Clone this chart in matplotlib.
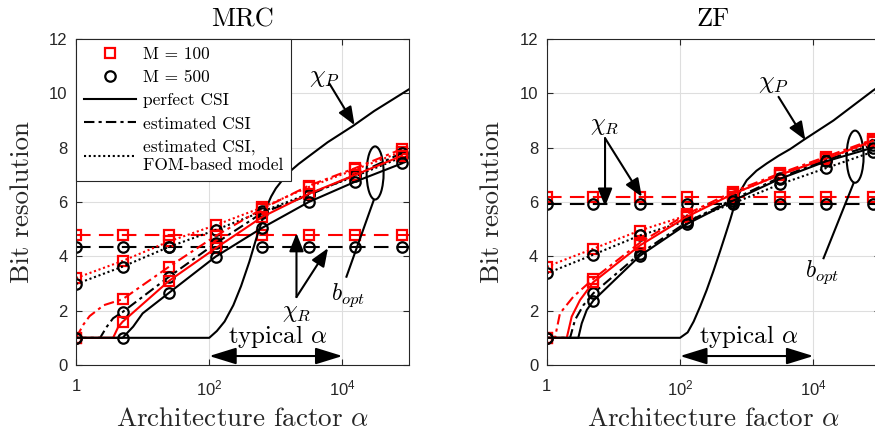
import numpy as np
import matplotlib
matplotlib.use('Agg')
import matplotlib.pyplot as plt
from matplotlib.lines import Line2D
from matplotlib.patches import Ellipse
from matplotlib.ticker import NullLocator

plt.rcParams['font.family'] = 'Liberation Sans'
plt.rcParams['mathtext.fontset'] = 'cm'
SERIF = 'cmr10'
INK = '#262626'

# alpha values where the markers sit
alpha_mk = [1, 5, 25, 125, 625, 3125, 15625, 78125]
alpha_full = [1, 5, 25, 125, 625, 3125, 15625, 78125, 100000]

# ---------------- MRC ----------------
mrc_chiR_100 = [4.78] * 9
mrc_chiR_500 = [4.35] * 9

mrc_chiP_a = [1, 100, 130, 170, 230, 300, 400, 500, 600, 720, 850, 1000, 1500, 2200, 3200, 6000, 14400, 30000, 100000]
mrc_chiP_b = [1, 1, 1.25, 1.6, 2.2, 2.9, 3.8, 4.6, 5.2, 5.8, 6.2, 6.5, 7.05, 7.4, 7.7, 8.2, 8.8, 9.35, 10.15]

mrc_perf100_a = [1, 3.6, 4.3, 5, 25, 125, 625, 3125, 15625, 78125]
mrc_perf100_b = [1, 1, 1.4, 1.59, 3.1, 4.3, 5.45, 6.3, 7.0, 7.7]
mrc_perf500_a = [1, 5, 7.2, 10, 25, 125, 625, 3125, 15625, 78125]
mrc_perf500_b = [1, 1, 1.41, 1.9, 2.66, 3.99, 5.05, 6.0, 6.75, 7.42]
mrc_est100_a = [1, 1.3, 1.6, 2.6, 5, 25, 125, 625, 3125, 15625, 78125]
mrc_est100_b = [1, 1.5, 1.8, 2.2, 2.42, 3.62, 4.75, 5.75, 6.6, 7.25, 7.95]
mrc_est500_a = [1, 2.3, 2.9, 3.6, 5, 25, 125, 625, 3125, 15625, 78125]
mrc_est500_b = [1, 1, 1.41, 1.72, 1.95, 3.25, 4.48, 5.6, 6.25, 7.0, 7.8]
mrc_fom100 = [3.2, 3.83, 4.55, 5.15, 5.8, 6.55, 7.2, 7.85]
mrc_fom500 = [2.98, 3.62, 4.35, 4.97, 5.65, 6.3, 6.95, 7.65]

# ---------------- ZF ----------------
zf_chiR_100 = [6.17] * 9
zf_chiR_500 = [5.91] * 9

zf_chiP_a = [1, 100, 130, 160, 200, 250, 316, 400, 480, 566, 650, 800, 1000, 1400, 2000, 3000, 4500, 7100, 20000, 78125, 100000]
zf_chiP_b = [1, 1, 1.2, 1.6, 2.15, 2.75, 3.45, 4.2, 4.8, 5.35, 5.85, 6.4, 6.8, 7.15, 7.42, 7.7, 7.95, 8.28, 9.0, 10.1, 10.28]

zf_perf100_a = [1, 2.0, 2.37, 3.16, 5, 25, 125, 625, 3125, 15625, 78125]
zf_perf100_b = [1, 1, 1.78, 2.39, 3.05, 4.4, 5.45, 6.3, 7.0, 7.6, 8.25]
zf_perf500_a = [1, 2.98, 3.35, 3.98, 5, 25, 125, 625, 3125, 15625, 78125]
zf_perf500_b = [1, 1, 1.53, 2.02, 2.37, 4.02, 5.18, 6.05, 6.85, 7.5, 8.0]
zf_est100_a = [1, 1.33, 1.58, 2.5, 5, 25, 125, 625, 3125, 15625, 78125]
zf_est100_b = [1, 1, 1.9, 2.51, 3.17, 4.5, 5.55, 6.38, 7.05, 7.67, 8.3]
zf_est500_a = [1, 2.24, 2.66, 3.55, 5, 25, 125, 625, 3125, 15625, 78125]
zf_est500_b = [1, 1, 1.66, 2.2, 2.64, 4.1, 5.25, 6.1, 6.9, 7.55, 8.1]
zf_fom100 = [3.62, 4.28, 4.95, 5.5, 6.3, 7.0, 7.6, 8.2]
zf_fom500 = [3.37, 4.06, 4.77, 5.3, 5.95, 6.65, 7.25, 7.85]

LW = 1.5
SOLID = '-'
DASHED = (0, (7, 4))
DASHDOT = (0, (5, 2, 1.5, 2))
DOTTED = (0, (1, 1.3))
SQ = dict(marker='s', ms=6.5, mew=1.6, mfc='none')
CI = dict(marker='o', ms=7.5, mew=1.6, mfc='none')


def curve(ax, a, b, color, ls, mk):
    a = np.asarray(a, float)
    b = np.asarray(b, float)
    ax.plot(a, b, color=color, ls=ls, lw=LW)
    m = np.isin(a, alpha_mk)
    ax.plot(a[m], b[m], ls='none', mec=color, **mk)


def style(ax, title):
    ax.set_xscale('log')
    ax.set_xlim(1, 1e5)
    ax.set_ylim(0, 12)
    ax.set_yticks(range(0, 13, 2))
    ax.set_xticks([1, 1e2, 1e4])
    ax.set_xticklabels(['1', r'$\mathregular{10^2}$', r'$\mathregular{10^4}$'])
    ax.xaxis.set_minor_locator(NullLocator())
    ax.grid(True, color='#dedede', lw=0.8)
    ax.set_axisbelow(True)
    ax.tick_params(direction='in', top=True, right=True, length=4, width=0.8,
                   labelsize=12, colors=INK, pad=6)
    ax.tick_params(axis='x', pad=10)
    for s in ax.spines.values():
        s.set_color(INK)
        s.set_linewidth(0.8)
    ax.set_title(title, family=SERIF, size=19, pad=9)
    ax.set_xlabel(r'Architecture factor $\alpha$', family=SERIF, size=19.5, color=INK, labelpad=6)
    ax.set_ylabel('Bit resolution', family=SERIF, size=19.5, color=INK, labelpad=11)


def arrow(ax, start, tip, ms=20):
    ax.annotate('', xy=tip, xytext=start,
                arrowprops=dict(arrowstyle='-|>,head_length=0.55,head_width=0.22',
                                color='k', lw=LW, shrinkA=0, shrinkB=0, mutation_scale=ms))


def typical(ax):
    ax.annotate('', xy=(1e2, 0.33), xytext=(1e4, 0.33),
                arrowprops=dict(arrowstyle='<|-|>,head_length=0.55,head_width=0.17',
                                color='k', lw=LW, shrinkA=0, shrinkB=0, mutation_scale=30))
    ax.text(1070, 1.05, r'typical $\alpha$', family=SERIF, size=18, ha='center', va='center')


fig = plt.figure(figsize=(8.75, 4.38), dpi=100)
ax1 = fig.add_axes([0.0869, 0.1667, 0.3806, 0.7443])
ax2 = fig.add_axes([0.6248, 0.1667, 0.381, 0.7443])

# MRC panel
curve(ax1, alpha_full, mrc_chiR_100, 'r', DASHED, SQ)
curve(ax1, alpha_full, mrc_chiR_500, 'k', DASHED, CI)
ax1.plot(mrc_chiP_a, mrc_chiP_b, color='k', lw=LW)
curve(ax1, alpha_mk, mrc_fom100, 'r', DOTTED, SQ)
curve(ax1, alpha_mk, mrc_fom500, 'k', DOTTED, CI)
curve(ax1, mrc_est100_a, mrc_est100_b, 'r', DASHDOT, SQ)
curve(ax1, mrc_est500_a, mrc_est500_b, 'k', DASHDOT, CI)
curve(ax1, mrc_perf100_a, mrc_perf100_b, 'r', SOLID, SQ)
curve(ax1, mrc_perf500_a, mrc_perf500_b, 'k', SOLID, CI)
style(ax1, 'MRC')

arrow(ax1, (6400, 10.35), (15200, 8.83))
ax1.text(5400, 10.6, r'$\chi_P$', size=18, ha='center', va='center')
ax1.add_patch(Ellipse((0.898, 0.589), 0.051, 0.163, transform=ax1.transAxes,
                      fill=False, lw=LW, ec='k'))
ax1.plot([10 ** 4.47, 10 ** 4.06], [6.07, 3.25], color='k', lw=LW)
ax1.text(12000, 2.55, r'$b_{opt}$', size=17, ha='center', va='center')
arrow(ax1, (2040, 2.5), (2040, 4.85))
arrow(ax1, (2040, 2.5), (6070, 4.3))
ax1.text(2040, 1.9, r'$\chi_R$', size=17, ha='center', va='center')
typical(ax1)

handles = [
    Line2D([], [], ls='none', mec='r', **SQ),
    Line2D([], [], ls='none', mec='k', **CI),
    Line2D([], [], color='k', lw=LW, ls=SOLID),
    Line2D([], [], color='k', lw=LW, ls=DASHDOT),
    Line2D([], [], color='k', lw=LW, ls=DOTTED),
]
labels = ['M = 100', 'M = 500', 'perfect CSI', 'estimated CSI', 'estimated CSI,\nFOM-based model']
leg = ax1.legend(handles, labels, loc='upper left', bbox_to_anchor=(0, 1), borderaxespad=0,
                 prop={'family': SERIF, 'size': 12.5}, frameon=True, fancybox=False,
                 edgecolor=INK, framealpha=1, handlelength=3.0, handletextpad=0.4,
                 labelspacing=0.45, borderpad=0.45)
leg.get_frame().set_linewidth(0.8)

# ZF panel
curve(ax2, alpha_full, zf_chiR_100, 'r', DASHED, SQ)
curve(ax2, alpha_full, zf_chiR_500, 'k', DASHED, CI)
ax2.plot(zf_chiP_a, zf_chiP_b, color='k', lw=LW)
curve(ax2, alpha_mk, zf_fom100, 'r', DOTTED, SQ)
curve(ax2, alpha_mk, zf_fom500, 'k', DOTTED, CI)
curve(ax2, zf_est100_a, zf_est100_b, 'r', DASHDOT, SQ)
curve(ax2, zf_est500_a, zf_est500_b, 'k', DASHDOT, CI)
curve(ax2, zf_perf100_a, zf_perf100_b, 'r', SOLID, SQ)
curve(ax2, zf_perf500_a, zf_perf500_b, 'k', SOLID, CI)
style(ax2, 'ZF')

arrow(ax2, (3000, 9.87), (7570, 8.28))
ax2.text(2520, 10.37, r'$\chi_P$', size=18, ha='center', va='center')
arrow(ax2, (7.5, 8.35), (7.5, 5.83))
arrow(ax2, (7.5, 8.35), (26.7, 6.19))
ax2.text(7.5, 8.8, r'$\chi_R$', size=17, ha='center', va='center')
ax2.add_patch(Ellipse((0.925, 0.639), 0.051, 0.16, transform=ax2.transAxes,
                      fill=False, lw=LW, ec='k'))
ax2.plot([40000, 14200], [6.69, 3.93], color='k', lw=LW)
ax2.text(13500, 3.4, r'$b_{opt}$', size=17, ha='center', va='center')
typical(ax2)

fig.savefig('out.png', dpi=100)
